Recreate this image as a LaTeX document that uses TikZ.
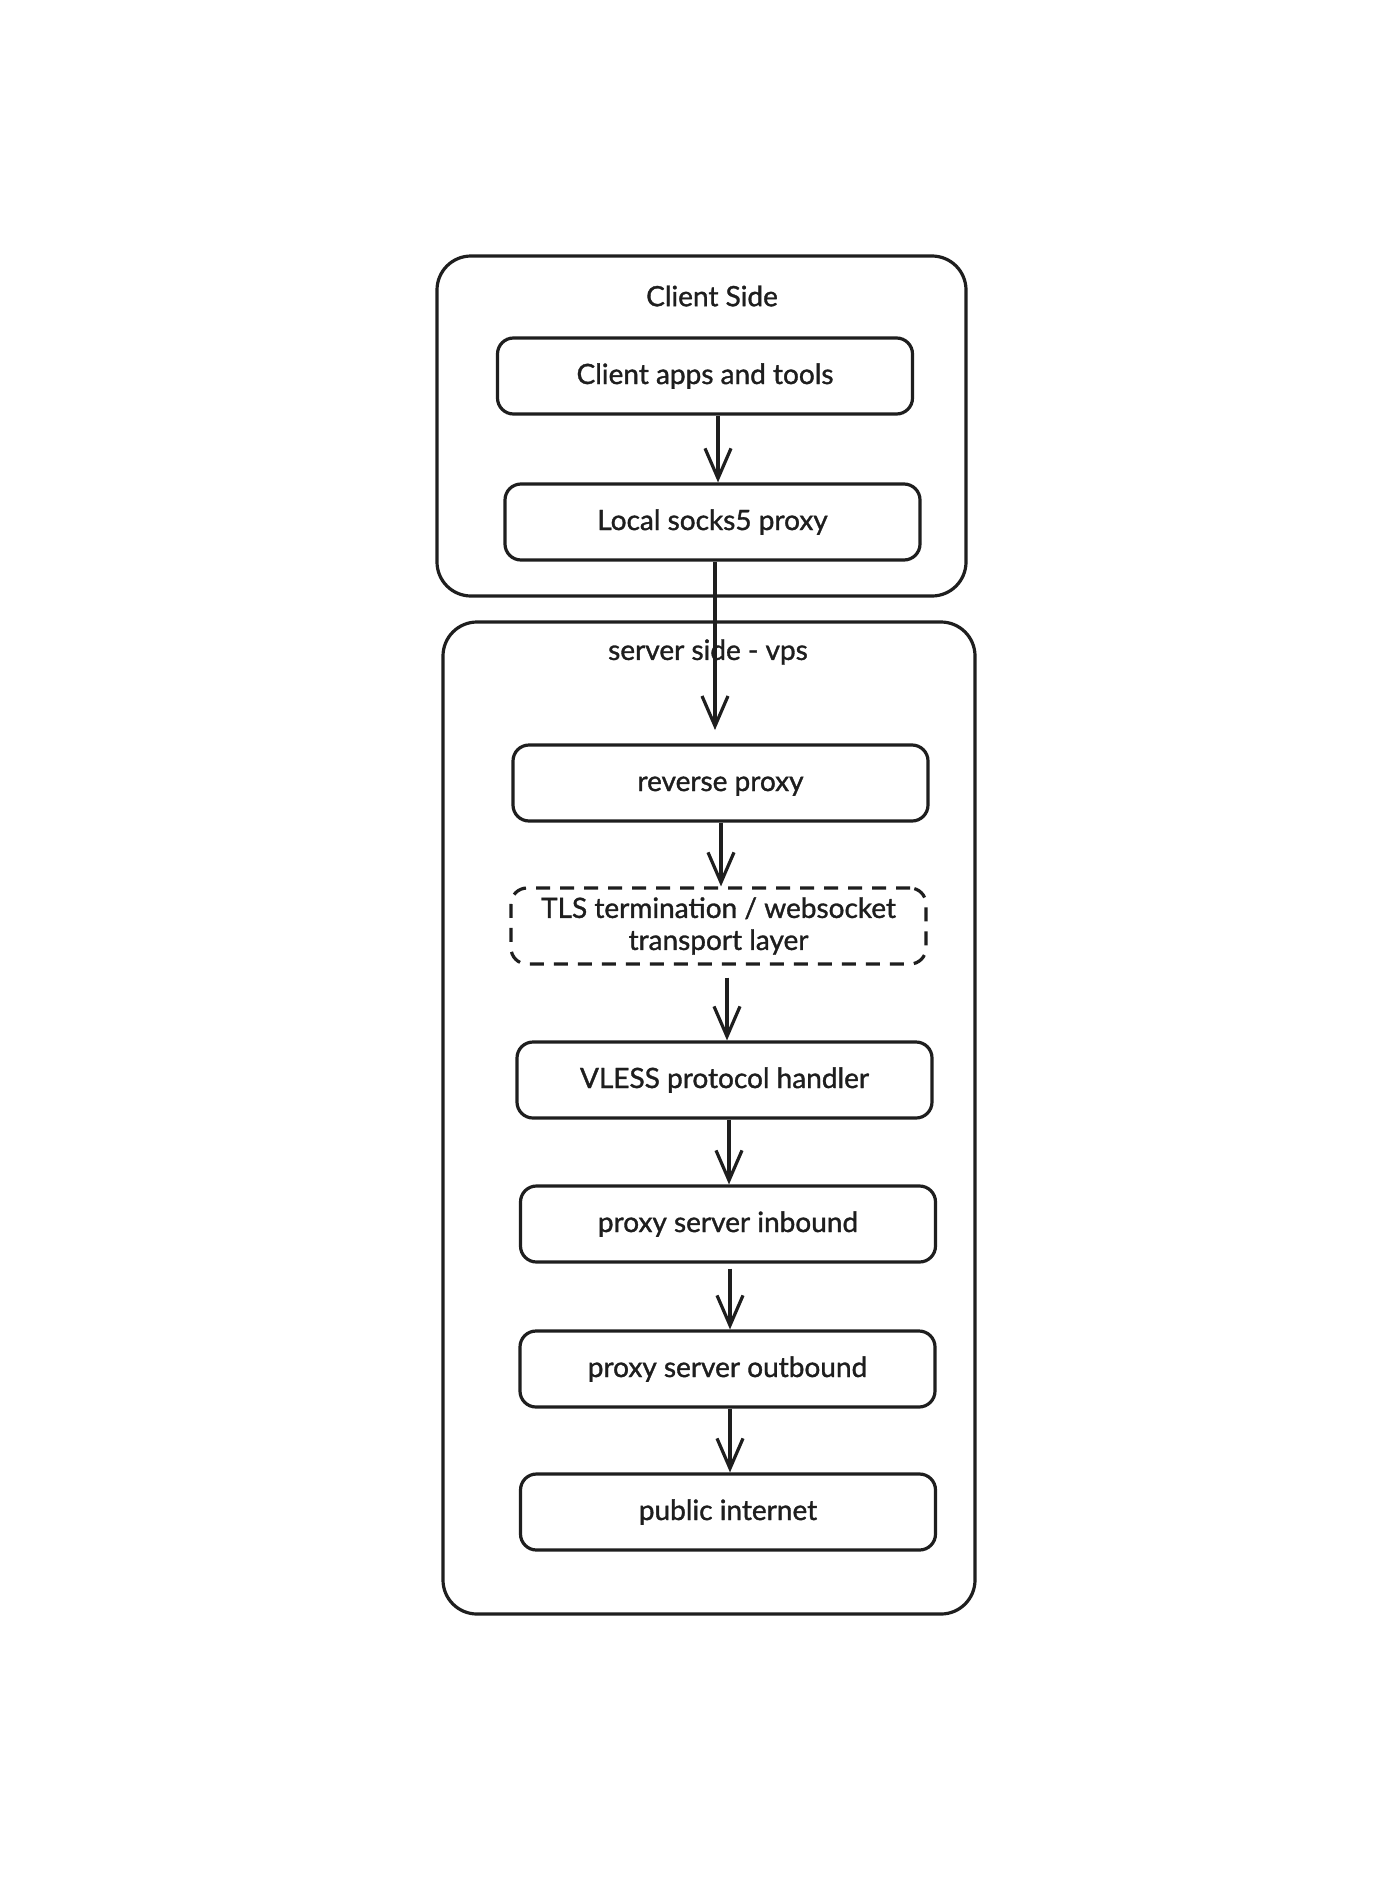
\documentclass[tikz,border=0pt]{standalone}
\usepackage{fontspec}
\setmainfont[FakeBold=1.2]{Lato}
\usetikzlibrary{arrows.meta}
\definecolor{ink}{HTML}{1E1E1E}
\begin{document}
\begin{tikzpicture}[x=1pt,y=-1pt,
  container/.style={draw=ink, line width=3.2pt, rounded corners=34pt, inner sep=0pt},
  box/.style={draw=ink, line width=3.2pt, rounded corners=16pt, minimum width=415pt,
    minimum height=76pt, inner sep=0pt, text=ink, align=center,
    font=\fontsize{28}{32}\selectfont},
  oneline/.style={text height=22pt, text depth=6pt},
  grouptitle/.style={text=ink, inner sep=0pt, font=\fontsize{28}{32}\selectfont},
  flow/.style={draw=ink, line width=3.2pt, -{Straight Barb[length=30pt,width=26pt]}}]
\fill[white] (0,0) rectangle (1374,1892);
\useasboundingbox (0,0) rectangle (1374,1892);

% Client side
\node[container, minimum width=529pt, minimum height=340pt] (client) at (701.5,426) {};
\node[grouptitle] (clienttitle) at (712,296) {Client Side};
\node[box, oneline] (apps) at (705,376) {Client apps and tools};
\node[box, oneline] (socks) at (712.5,522) {Local socks5 proxy};

% Server side
\node[container, minimum width=532pt, minimum height=992pt] (server) at (709,1118) {};
\node[grouptitle] (servertitle) at (708,652) {server side - vps};
\node[box, oneline] (rproxy) at (720.5,783) {reverse proxy};
\node[box, dash pattern=on 14pt off 10pt] (tls) at (718.5,926) {TLS termination / websocket\\transport layer};
\node[box, oneline] (vless) at (724.5,1080) {VLESS protocol handler};
\node[box, oneline] (inbound) at (728,1224) {proxy server inbound};
\node[box, oneline] (outbound) at (727.5,1369) {proxy server outbound};
\node[box, oneline] (internet) at (728,1512) {public internet};
\coordinate (entry) at (715,730);

% Connectors
\draw[flow] ([xshift=13pt]apps.south) -- ([xshift=5.5pt]socks.north);
\draw[flow] ([xshift=2.5pt]socks.south) -- (entry);
\draw[flow] ([xshift=0.5pt]rproxy.south) -- ([xshift=2.5pt]tls.north);
\draw[flow, shorten <=12pt] ([xshift=8.5pt]tls.south) -- ([xshift=2.5pt]vless.north);
\draw[flow] ([xshift=4.5pt]vless.south) -- ([xshift=1pt]inbound.north);
\draw[flow, shorten <=5pt] ([xshift=2pt]inbound.south) -- ([xshift=2.5pt]outbound.north);
\draw[flow] ([xshift=2.5pt]outbound.south) -- ([xshift=2pt]internet.north);
\end{tikzpicture}
\end{document}
